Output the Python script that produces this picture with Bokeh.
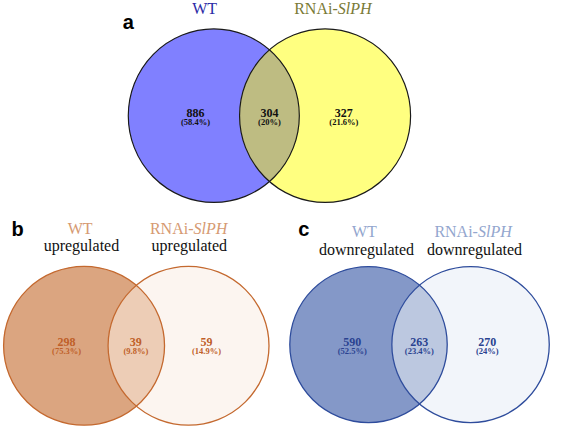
import numpy as np
from bokeh.plotting import figure
from bokeh.models import Range1d
from bokeh.core.properties import value
from bokeh.embed import file_html
from bokeh.resources import INLINE

# ---------------- data ----------------
panel_letters = ["a", "b", "c"]
set_left = "WT"
set_right_plain = "RNAi-"
set_right_italic = "SlPH"
b_subtitle = "upregulated"
c_subtitle = "downregulated"

a_counts = [886, 304, 327]
a_pcts = ["(58.4%)", "(20%)", "(21.6%)"]
b_counts = [298, 39, 59]
b_pcts = ["(75.3%)", "(9.8%)", "(14.9%)"]
c_counts = [590, 263, 270]
c_pcts = ["(52.5%)", "(23.4%)", "(24%)"]

SERIF = value("Liberation Serif")
SANS = value("Liberation Sans")

p = figure(width=551, height=427, output_backend="svg", toolbar_location=None,
           x_range=Range1d(0, 567), y_range=Range1d(443, 0), min_border=0)
p.axis.visible = False
p.grid.visible = False
p.outline_line_color = None
p.background_fill_color = "white"


def lens(cx1, cx2, cy, rx, ry, n=120):
    d = (cx2 - cx1) / rx
    a = d / 2.0
    beta = np.arccos(a)
    phi = np.linspace(np.pi - beta, np.pi + beta, n)
    th = np.linspace(-beta, beta, n)
    u = np.concatenate([d + np.cos(phi), np.cos(th)])
    v = np.concatenate([np.sin(phi), np.sin(th)])
    return cx1 + u * rx, cy + v * ry


def venn(cx1, cx2, cy, rx, ry, fills, line_color, line_width):
    p.ellipse(x=[cx1], y=[cy], width=2 * rx, height=2 * ry,
              fill_color=fills[0], line_color=None)
    p.ellipse(x=[cx2], y=[cy], width=2 * rx, height=2 * ry,
              fill_color=fills[2], line_color=None)
    lx, ly = lens(cx1, cx2, cy, rx, ry)
    p.patch(lx, ly, fill_color=fills[1], line_color=None)
    p.ellipse(x=[cx1, cx2], y=[cy, cy], width=2 * rx, height=2 * ry,
              fill_alpha=0, line_color=line_color, line_width=line_width)


def numbers(xs, y_num, y_pct, counts, pcts, color, num_size, pct_size):
    p.text(x=xs, y=[y_num] * 3, text=[str(c) for c in counts],
           text_font=SERIF, text_font_style="bold", text_font_size=value(num_size),
           text_align="center", text_baseline="middle", text_color=color)
    p.text(x=xs, y=[y_pct] * 3, text=pcts,
           text_font=SERIF, text_font_style="bold", text_font_size=value(pct_size),
           text_align="center", text_baseline="middle", text_color=color)


def set_labels(x_left, x_split, y, color_left, color_right, size="16px"):
    p.text(x=[x_left], y=[y], text=[set_left], text_font=SERIF,
           text_font_size=value(size), text_align="center",
           text_baseline="middle", text_color=color_left)
    p.text(x=[x_split], y=[y], text=[set_right_plain], text_font=SERIF,
           text_font_size=value(size), text_align="right",
           text_baseline="middle", text_color=color_right)
    p.text(x=[x_split], y=[y], text=[set_right_italic], text_font=SERIF,
           text_font_style="italic", text_font_size=value(size), text_align="left",
           text_baseline="middle", text_color=color_right)


def subtitles(xs, y, t):
    p.text(x=xs, y=[y] * len(xs), text=[t] * len(xs), text_font=SERIF,
           text_font_size=value("16px"), text_align="center", text_baseline="middle",
           text_color="#111111")


def letter(x, y, t):
    p.text(x=[x], y=[y], text=[t], text_font=SANS, text_font_style="bold",
           text_font_size=value("20px"), text_align="center",
           text_baseline="middle", text_color="black")


# ---------------- panel a ----------------
venn(219.5, 334.0, 119.5, 88.0, 90.0,
     ["#8080FF", "#BEBC82", "#FFFF80"], "#1a1a1a", 1.2)
numbers([200.7, 276.7, 353.3], 117.0, 126.2, a_counts, a_pcts, "#111111", "12px", "8.5px")
set_labels(210, 347, 8.0, "#2B2BA6", "#7A7A36")
letter(131.5, 22.0, panel_letters[0])

# ---------------- panel b ----------------
venn(86.0, 193.5, 358.2, 82.8, 82.4,
     ["#DBA580", "#EDCDB6", "#FCF5F0"], "#C4692F", 1.3)
numbers([68, 139.3, 212], 354.3, 363.9, b_counts, b_pcts, "#BF5F28", "12px", "8.5px")
set_labels(82, 198.6, 236.3, "#D69A72", "#D69A72")
subtitles([83.3, 194.3], 254.0, b_subtitle)
letter(17.5, 237.0, panel_letters[1])

# ---------------- panel c ----------------
venn(378.7, 483.7, 357.0, 81.0, 81.0,
     ["#8498C8", "#BCC8E0", "#F2F5FA"], "#2E4C9C", 1.3)
numbers([362, 431, 501], 354.3, 363.9, c_counts, c_pcts, "#2A4290", "12px", "8.5px")
set_labels(374.5, 491.3, 239.6, "#93A6CE", "#93A6CE")
subtitles([376.7, 487.8], 258.0, c_subtitle)
letter(312, 237.5, panel_letters[2])

open("out.html", "w").write(file_html(p, INLINE))
